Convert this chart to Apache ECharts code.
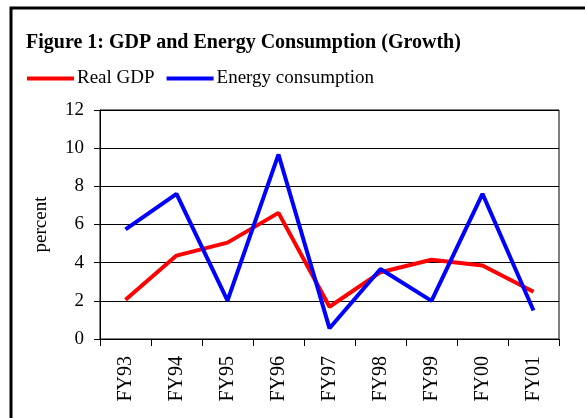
<!DOCTYPE html>
<html>
<head>
<meta charset="utf-8">
<script src="https://cdn.jsdelivr.net/npm/echarts@6/dist/echarts.min.js"></script>
<style>
  html, body { margin: 0; padding: 0; background: #fff; }
  #chart { width: 585px; height: 418px; }
</style>
</head>
<body>
<div id="chart"></div>
<script>
// fiscal years and growth rates
var years = ['FY93', 'FY94', 'FY95', 'FY96', 'FY97', 'FY98', 'FY99', 'FY00', 'FY01'];
var realGdp = [2.06, 4.37, 5.05, 6.61, 1.69, 3.5, 4.15, 3.85, 2.48];
var energy = [5.74, 7.61, 2.01, 9.67, 0.56, 3.67, 2.0, 7.61, 1.49];
var yTicks = { min: 0, max: 12, interval: 2 };

var serif = '"Liberation Serif", "Times New Roman", serif';
var myChart = echarts.init(document.getElementById('chart'));

var option = {
  backgroundColor: '#fff',
  animation: false,
  graphic: [
    {
      type: 'rect',
      shape: { x: 11, y: 8, width: 620, height: 460 },
      style: { fill: 'none', stroke: '#000', lineWidth: 3 }
    },
    {
      type: 'text',
      left: 26, top: 33,
      style: {
        text: 'Figure 1: GDP and Energy Consumption (Growth)',
        font: 'bold 20px ' + serif,
        fill: '#000'
      }
    }
  ],
  legend: {
    left: 22, top: 64,
    itemWidth: 47, itemHeight: 4, itemGap: 12,
    icon: 'rect',
    textStyle: { fontFamily: serif, fontSize: 19, color: '#000', padding: [0, 0, 0, -2] },
    data: ['Real GDP', 'Energy consumption']
  },
  grid: {
    left: 100, right: 26, top: 110, bottom: 79,
    show: true, borderColor: '#000', borderWidth: 1
  },
  xAxis: {
    type: 'category',
    data: years,
    boundaryGap: true,
    axisLine: { lineStyle: { color: '#000', width: 1 } },
    axisTick: { show: true, length: 7, lineStyle: { color: '#000' } },
    axisLabel: { rotate: 90, margin: 17, fontFamily: serif, fontSize: 20, color: '#000' }
  },
  yAxis: {
    type: 'value',
    min: yTicks.min, max: yTicks.max, interval: yTicks.interval,
    name: 'percent',
    nameLocation: 'middle',
    nameGap: 49,
    nameTextStyle: { fontFamily: serif, fontSize: 19, color: '#000' },
    axisLine: { show: true, lineStyle: { color: '#000', width: 1 } },
    axisTick: { show: true, length: 6, lineStyle: { color: '#000' } },
    axisLabel: { margin: 16, fontFamily: serif, fontSize: 19, color: '#000' },
    splitLine: { lineStyle: { color: '#000', width: 1 } }
  },
  series: [
    {
      name: 'Real GDP', type: 'line', data: realGdp,
      showSymbol: false, symbol: 'none',
      itemStyle: { color: '#ff0000' },
      lineStyle: { color: '#ff0000', width: 4 }
    },
    {
      name: 'Energy consumption', type: 'line', data: energy,
      showSymbol: false, symbol: 'none',
      itemStyle: { color: '#0000ff' },
      lineStyle: { color: '#0000ff', width: 4 }
    }
  ]
};

myChart.setOption(option);
</script>
</body>
</html>
